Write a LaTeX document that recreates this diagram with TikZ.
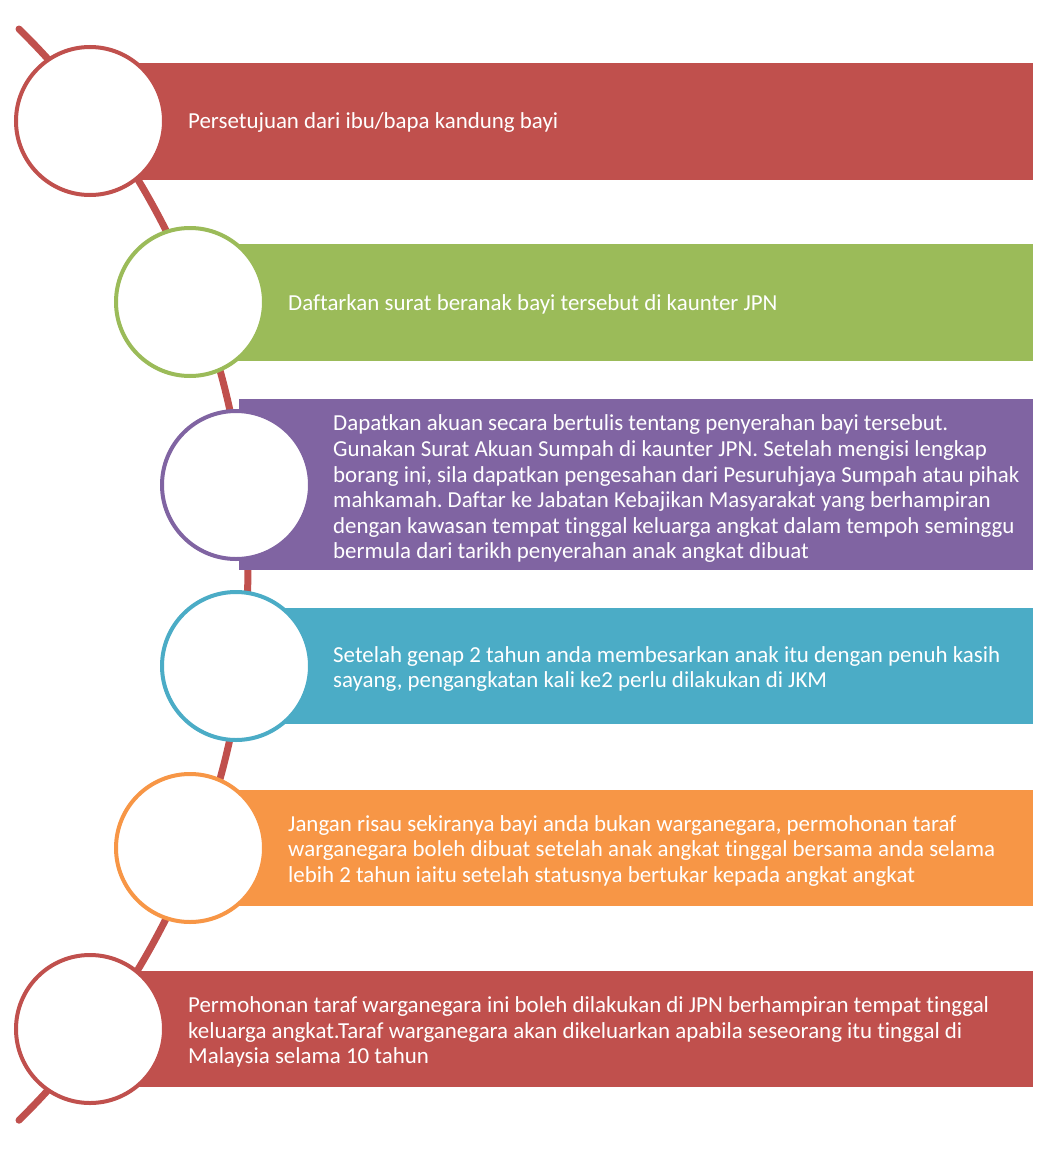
\documentclass[tikz,border=0pt]{standalone}
\usepackage{fontspec}
\setmainfont[Ligatures=NoCommon]{Carlito}
\frenchspacing
\definecolor{stepred}{HTML}{C0504D}
\definecolor{stepgreen}{HTML}{9BBB59}
\definecolor{steppurple}{HTML}{8064A2}
\definecolor{stepcyan}{HTML}{4BACC6}
\definecolor{steporange}{HTML}{F79646}
\usetikzlibrary{positioning}

\begin{document}
\begin{tikzpicture}[x=1pt, y=-1pt,
  ring/.style={circle, draw=#1, line width=4pt, fill=white, minimum size=148pt, inner sep=0pt},
  bar/.style={fill=#1, anchor=north west, inner sep=0pt, outer sep=0pt},
  txt/.style={anchor=west, text=white, align=left, inner sep=0pt, font=\fontsize{22.9}{25.6}\selectfont},
  spine/.style={draw=stepred, line width=7pt, line cap=round}
]
\useasboundingbox (0,0) rectangle (1052,1151);

% spine behind everything
\coordinate (top) at (19,29);
\draw[spine] (top) arc[start angle=-45.5, end angle=45.5, radius=765];

% bars
\node[bar=stepred,    minimum width=943pt, minimum height=117pt] (bar1) at (90,63)  {};
\node[bar=stepgreen,  minimum width=843pt, minimum height=117pt] (bar2) at (190,244) {};
\node[bar=steppurple, minimum width=794pt, minimum height=171pt] (bar3) at (239,399) {};
\node[bar=stepcyan,   minimum width=797pt, minimum height=116pt] (bar4) at (236,608) {};
\node[bar=steporange, minimum width=843pt, minimum height=116pt] (bar5) at (190,790) {};
\node[bar=stepred,    minimum width=943pt, minimum height=116pt] (bar6) at (90,971)  {};

% circles
\node[ring=stepred]    (c1) at (90,121)  {};
\node[ring=stepgreen]  (c2) at (190,302) {};
\node[ring=steppurple] (c3) at (236,485) {};
\node[ring=stepcyan]   (c4) at (236,666) {};
\node[ring=steporange] (c5) at (190,848) {};
\node[ring=stepred]    (c6) at (90,1029) {};

% texts
\node[txt] (t1) at (188,123) {Persetujuan dari ibu/bapa kandung bayi};
\node[txt] (t2) at (288,304) {Daftarkan surat beranak bayi tersebut di kaunter JPN};
\node[txt] (t3) at (333,489) {Dapatkan akuan secara bertulis tentang penyerahan bayi tersebut.\\
  Gunakan Surat Akuan Sumpah di kaunter JPN. Setelah mengisi lengkap\\
  borang ini, sila dapatkan pengesahan dari Pesuruhjaya Sumpah atau pihak\\
  mahkamah. Daftar ke Jabatan Kebajikan Masyarakat yang berhampiran\\
  dengan kawasan tempat tinggal keluarga angkat dalam tempoh seminggu\\
  bermula dari tarikh penyerahan anak angkat dibuat};
\node[txt] (t4) at (333,669) {Setelah genap 2 tahun anda membesarkan anak itu dengan penuh kasih\\
  sayang, pengangkatan kali ke2 perlu dilakukan di JKM};
\node[txt] (t5) at (288,851) {Jangan risau sekiranya bayi anda bukan warganegara, permohonan taraf\\
  warganegara boleh dibuat setelah anak angkat tinggal bersama anda selama\\
  lebih 2 tahun iaitu setelah statusnya bertukar kepada angkat angkat};
\node[txt] (t6) at (188,1032) {Permohonan taraf warganegara ini boleh dilakukan di JPN berhampiran tempat tinggal\\
  keluarga angkat.Taraf warganegara akan dikeluarkan apabila seseorang itu tinggal di\\
  Malaysia selama 10 tahun};

\end{tikzpicture}
\end{document}
